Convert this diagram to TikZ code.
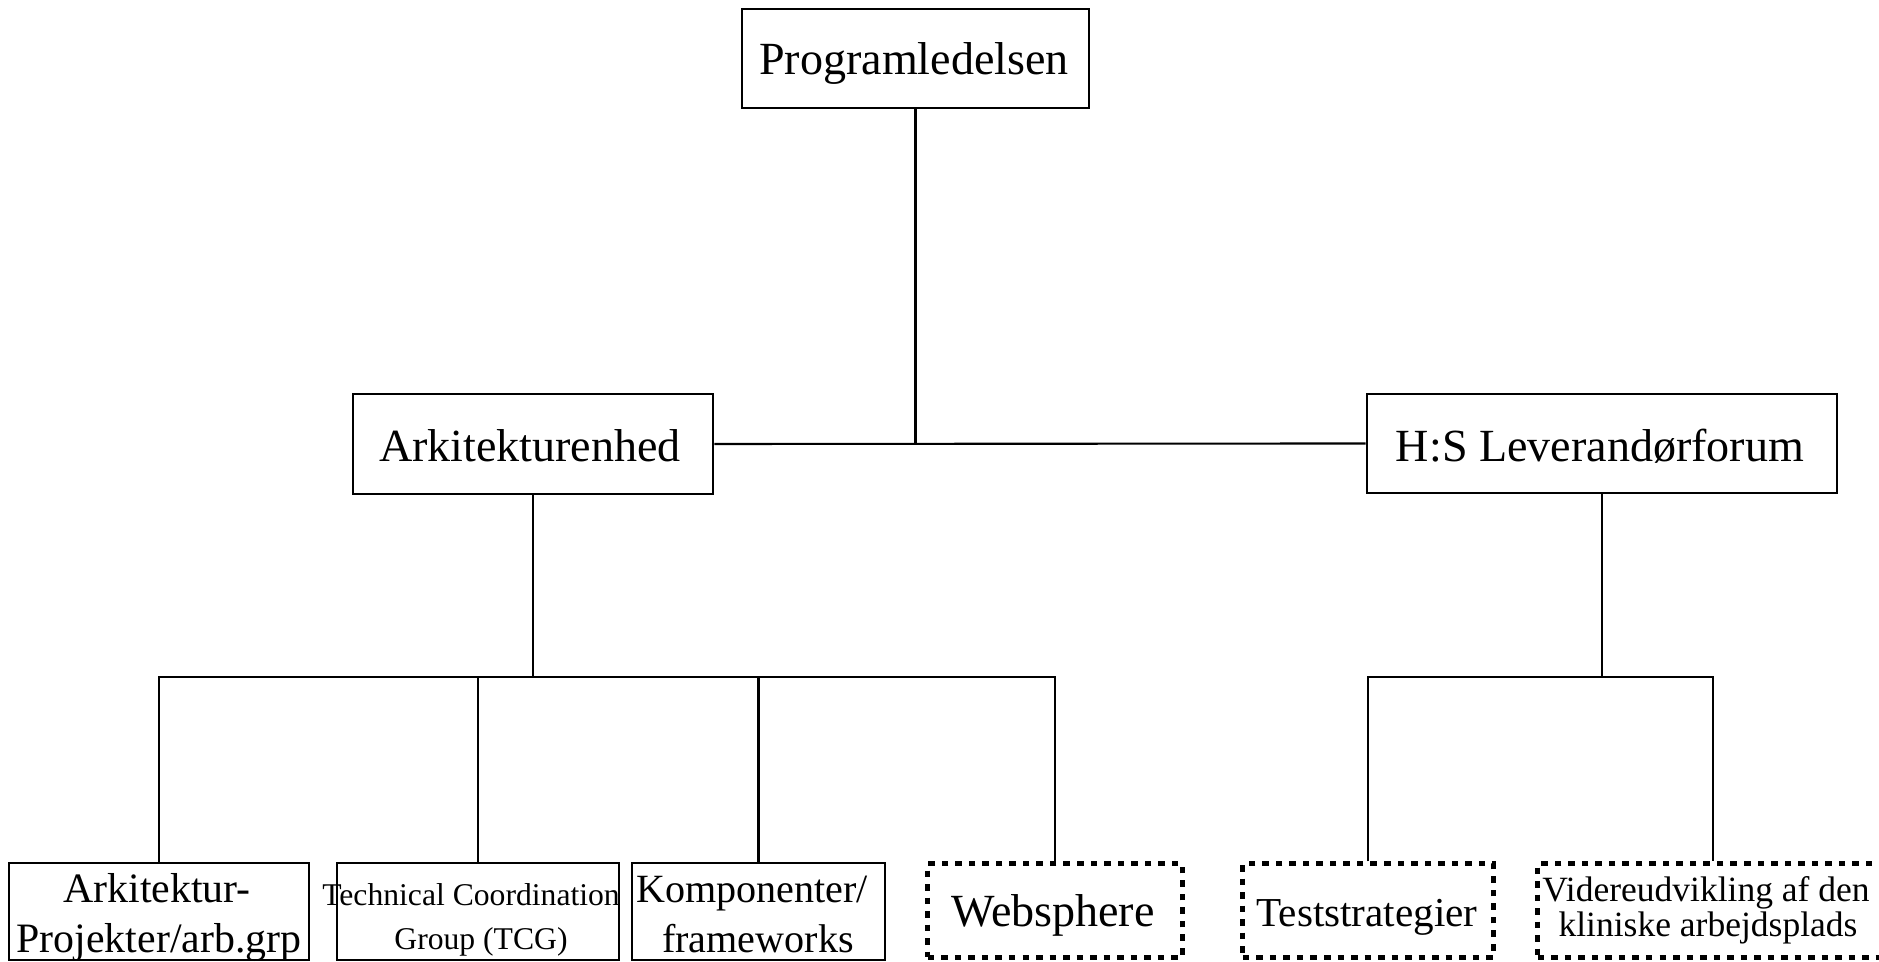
\documentclass[tikz,border=0pt]{standalone}
\usepackage{fontspec}
\setmainfont{Liberation Serif}
\begin{document}
\begin{tikzpicture}[x=0.01cm,y=-0.01cm,
  box/.style={draw, line width=0.7pt, inner sep=0pt},
  dotbox/.style={draw, line width=0.05cm, dash pattern=on 0.065cm off 0.07cm, inner sep=0pt},
  link/.style={line width=0.6pt},
  lbl/.style={inner sep=0pt, anchor=base},
  fA/.style={font=\fontsize{13.1pt}{15.7pt}\selectfont},
  fB/.style={font=\fontsize{11.9pt}{14pt}\selectfont},
  fC/.style={font=\fontsize{9pt}{11pt}\selectfont},
  fD/.style={font=\fontsize{11.4pt}{13.7pt}\selectfont},
  fE/.style={font=\fontsize{11.7pt}{14pt}\selectfont},
  fF/.style={font=\fontsize{10.1pt}{12pt}\selectfont}]
\useasboundingbox (0,0) rectangle (1879,962);
\clip (0,0) rectangle (1879,962);

% boxes
\node[box, minimum width=3.47cm, minimum height=0.99cm] (prog) at (915.5,58.5) {};
\node[box, minimum width=3.60cm, minimum height=1.00cm] (arch) at (533,444) {};
\node[box, minimum width=4.70cm, minimum height=0.99cm] (hs)   at (1602,443.5) {};

\node[box, minimum width=3.00cm, minimum height=0.97cm] (b1) at (159,911.5) {};
\node[box, minimum width=2.82cm, minimum height=0.97cm] (b2) at (478,911.5) {};
\node[box, minimum width=2.53cm, minimum height=0.97cm] (b3) at (758.5,911.5) {};
\node[dotbox, minimum width=2.54cm, minimum height=0.93cm] (b4) at (1055,910.5) {};
\node[dotbox, minimum width=2.50cm, minimum height=0.93cm] (b5) at (1368,910.5) {};
\node[dotbox, minimum width=3.50cm, minimum height=0.93cm] (b6) at (1713,910.5) {};

% labels
\node[lbl, fA] (prog-t) at (914,75) {Programledelsen};
\node[lbl, fA] (arch-t) at (530,462) {Arkitekturenhed};
\node[lbl, fA] (hs-t)   at (1600,462) {H:S Leverandørforum};

\node[lbl, fB] (b1-t1) at (157,903) {Arkitektur-};
\node[lbl, fB] (b1-t2) at (159,953) {Projekter/arb.grp};
\node[lbl, fC] (b2-t1) at (471,906) {Technical Coordination};
\node[lbl, fC] (b2-t2) at (481,950) {Group (TCG)};
\node[lbl, fD] (b3-t1) at (752,903) {Komponenter/};
\node[lbl, fD] (b3-t2) at (758,953) {frameworks};
\node[lbl, fA] (b4-t)  at (1053,927) {Websphere};
\node[lbl, fE] (b5-t)  at (1367,927) {Teststrategier};
\node[lbl, fF] (b6-t1) at (1706,902) {Videreudvikling af den};
\node[lbl, fF] (b6-t2) at (1708,937) {kliniske arbejdsplads};

% connectors
\coordinate (bus) at (0,677);
\draw[link] (prog.south) -- (prog.south |- arch.east);
\draw[link] (arch.east) -- (hs.west);

\draw[link] (arch.south) -- (arch.south |- bus);
\draw[link] (b1.north) -- (b1.north |- bus) -- (b4.north |- bus) -- (b4.north);
\draw[link] (b2.north) -- (b2.north |- bus);
\draw[link] (b3.north) -- (b3.north |- bus);

\draw[link] (hs.south) -- (hs.south |- bus);
\draw[link] (b5.north) -- (b5.north |- bus) -- (b6.north |- bus) -- (b6.north);
\end{tikzpicture}
\end{document}
